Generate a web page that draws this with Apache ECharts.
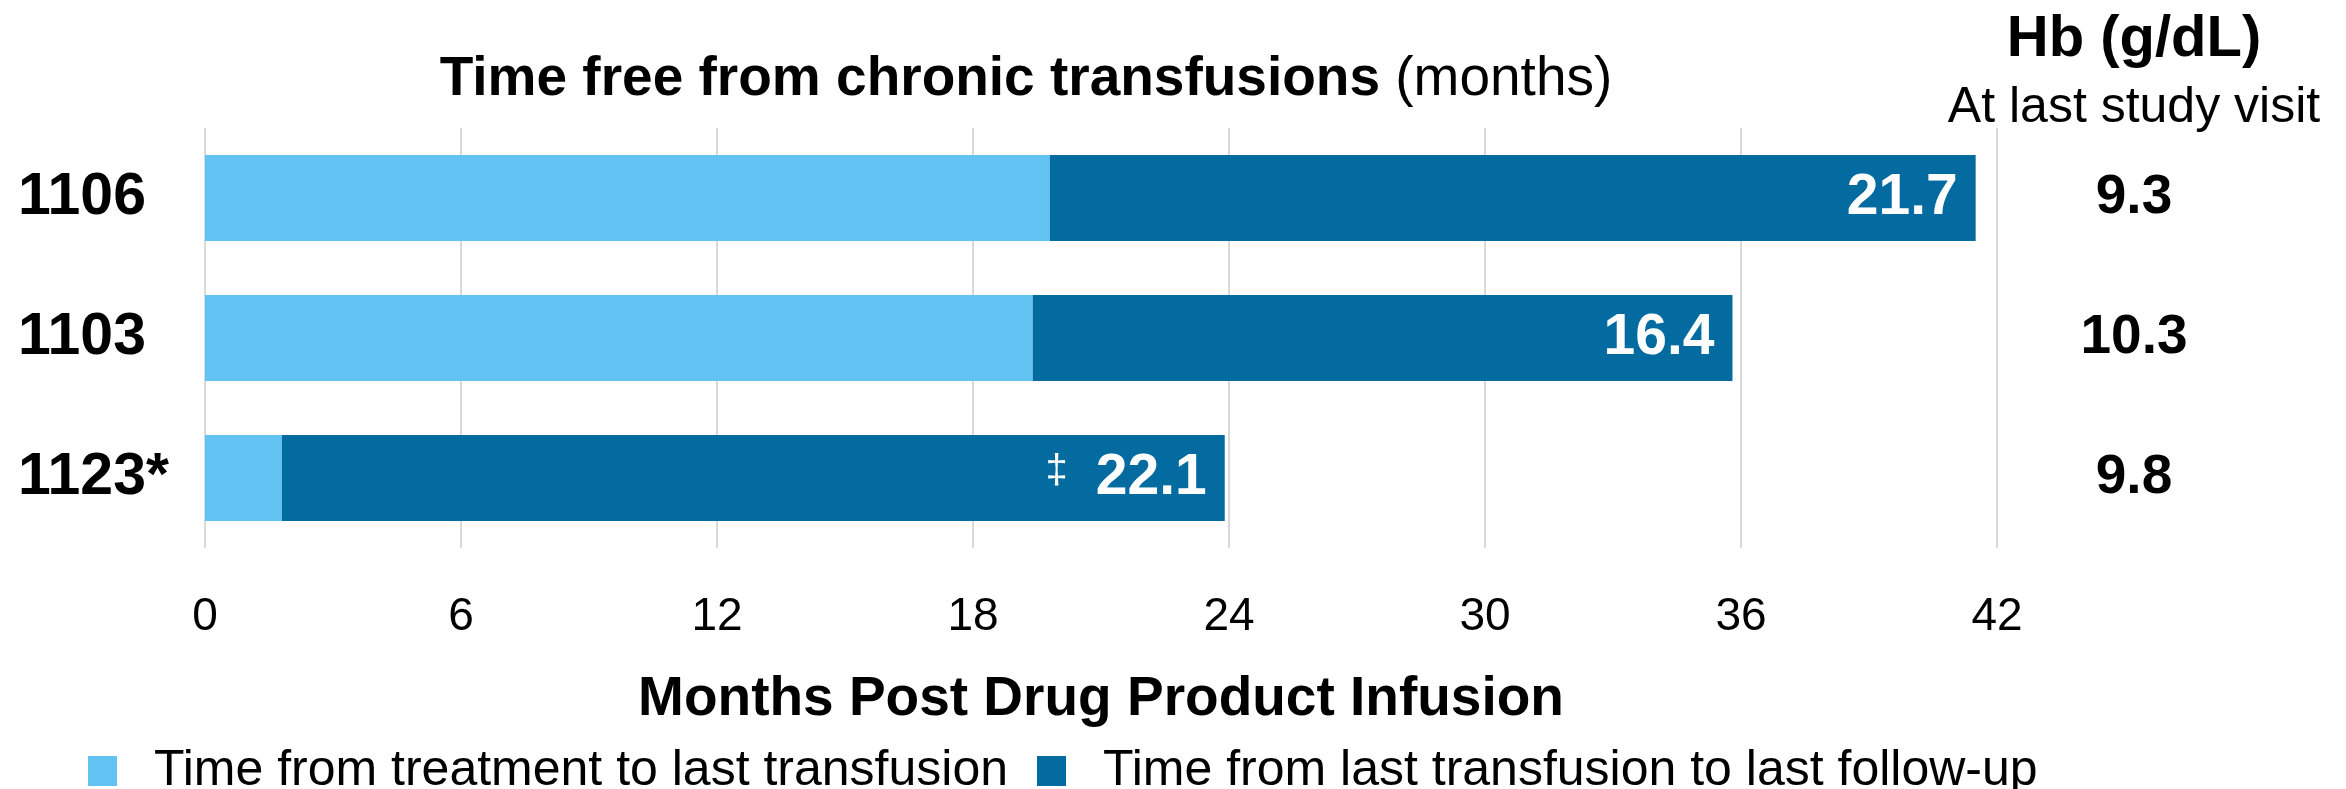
<!DOCTYPE html>
<html>
<head>
<meta charset="utf-8">
<script src="https://cdn.jsdelivr.net/npm/echarts@6/dist/echarts.min.js"></script>
<style>
  html, body { margin: 0; padding: 0; background: #fff; }
  #chart { width: 2346px; height: 789px; }
</style>
</head>
<body>
<div id="chart"></div>
<script>
// patients, top to bottom
const patients = ['1106', '1103', '1123*'];
// months from treatment to last transfusion
const toLastTransfusion = [19.8, 19.4, 1.8];
// months from last transfusion to last follow-up
const transfusionFree = [21.7, 16.4, 22.1];
const labelNotes = ['', '', '‡'];
// Hb at last study visit
const hbValues = ['9.3', '10.3', '9.8'];
const xTicks = [0, 42, 6];

const FONT = '"Liberation Sans", Arial, sans-serif';
const LIGHT = '#62C2F2';
const DARK = '#046BA1';

const chart = echarts.init(document.getElementById('chart'));

const option = {
    animation: false,
    textStyle: { fontFamily: FONT, color: '#000' },
    grid: { left: 205, right: 349, top: 128, height: 420, containLabel: false },
    graphic: [
        {
            type: 'text', x: 1026, y: 80,
            style: {
                text: '{b|Time free from chronic transfusions}{n| (months)}',
                align: 'center', verticalAlign: 'middle',
                rich: {
                    b: { fontFamily: FONT, fontWeight: 'bold', fontSize: 55, fill: '#000' },
                    n: { fontFamily: FONT, fontSize: 55, fill: '#000' }
                }
            }
        },
        {
            type: 'text', x: 2134, y: 40,
            style: { text: 'Hb (g/dL)', align: 'center', verticalAlign: 'middle',
                font: 'bold 58px ' + FONT, fill: '#000' }
        },
        {
            type: 'text', x: 2134, y: 108,
            style: { text: 'At last study visit', align: 'center', verticalAlign: 'middle',
                font: '50px ' + FONT, fill: '#000' }
        }
    ],
    legend: {
        left: 83, top: 741,
        selectedMode: false,
        icon: 'rect',
        itemWidth: 29, itemHeight: 30, itemGap: 29,
        textStyle: { fontFamily: FONT, fontSize: 50, color: '#000', padding: [0, 0, 0, 32] },
        data: ['Time from treatment to last transfusion', 'Time from last transfusion to last follow-up']
    },
    xAxis: {
        type: 'value',
        min: xTicks[0], max: xTicks[1], interval: xTicks[2],
        name: 'Months Post Drug Product Infusion',
        nameLocation: 'middle', nameGap: 124,
        nameTextStyle: { fontFamily: FONT, fontWeight: 'bold', fontSize: 55, color: '#000' },
        axisLine: { show: false }, axisTick: { show: false },
        axisLabel: { fontFamily: FONT, fontSize: 46, color: '#000', margin: 46 },
        splitLine: { show: true, lineStyle: { color: '#d9d9d9', width: 2 } }
    },
    yAxis: [
        {
            type: 'category', inverse: true, data: patients,
            axisLine: { show: false }, axisTick: { show: false },
            axisLabel: { fontFamily: FONT, fontWeight: 'bold', fontSize: 59, color: '#000',
                align: 'left', margin: 187 }
        },
        {
            type: 'category', inverse: true, data: patients, position: 'right',
            axisLine: { show: false }, axisTick: { show: false },
            axisLabel: { fontFamily: FONT, fontWeight: 'bold', fontSize: 55, color: '#000',
                align: 'center', margin: 137,
                formatter: (v, i) => hbValues[i] }
        }
    ],
    series: [
        {
            name: 'Time from treatment to last transfusion',
            type: 'bar', stack: 'total', barCategoryGap: '38.6%',
            itemStyle: { color: LIGHT },
            data: toLastTransfusion
        },
        {
            name: 'Time from last transfusion to last follow-up',
            type: 'bar', stack: 'total', barCategoryGap: '38.6%',
            itemStyle: { color: DARK },
            label: {
                show: true, position: 'insideRight', distance: 18,
                formatter: p => labelNotes[p.dataIndex]
                    ? '{n|' + labelNotes[p.dataIndex] + '}{v|' + p.value + '}'
                    : '{v|' + p.value + '}',
                rich: {
                    v: { fontFamily: FONT, fontWeight: 'bold', fontSize: 57, color: '#fff' },
                    n: { fontFamily: FONT, fontSize: 40, color: '#fff', padding: [0, 28, 12, 0] }
                }
            },
            data: transfusionFree
        }
    ]
};

chart.setOption(option);
</script>
</body>
</html>
